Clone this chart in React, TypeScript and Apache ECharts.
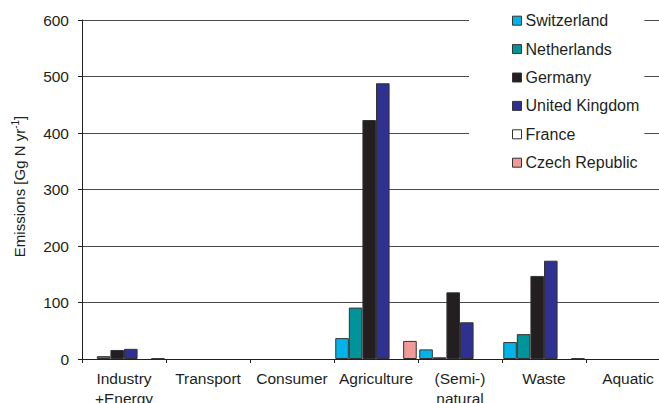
import React, { useEffect, useRef } from "react";
import * as echarts from "echarts";

const categories = ["Industry\n+Energy", "Transport", "Consumer", "Agriculture", "(Semi-)\nnatural", "Waste", "Aquatic"];
const countries = ["Switzerland", "Netherlands", "Germany", "United Kingdom", "France", "Czech Republic"];
const switzerland = [null, null, null, 37, 17, 30, null];
const netherlands = [5, null, null, 91, 3, 44, null];
const germany = [16, null, null, 423, 118, 147, null];
const unitedKingdom = [18, null, null, 488, 65, 174, null];
const france = [null, null, null, null, null, null, null];
const czechRepublic = [1, null, null, 32, null, 1, null];
const colors = ["#00b4ea", "#00939a", "#231f20", "#2e3192", "#ffffff", "#f29a9a"];
const yTicks = [0, 100, 200, 300, 400, 500, 600];

const FONT = "'Liberation Sans', Arial, Helvetica, sans-serif";
const TXT = "#231f20";

export default function App() {
  const ref = useRef<HTMLDivElement>(null);
  useEffect(() => {
    if (!ref.current) return;
    const chart = echarts.init(ref.current, undefined, { renderer: "svg" });
    const data = [switzerland, netherlands, germany, unitedKingdom, france, czechRepublic];
    chart.setOption({
      animation: false,
      textStyle: { fontFamily: FONT, color: TXT },
      grid: { left: 82, top: 20, bottom: 44, right: -11, containLabel: false, outerBoundsMode: "none" },
      legend: {
        orient: "vertical",
        left: 469,
        top: 4.7,
        padding: [8, 5, 8, 43],
        backgroundColor: "#ffffff",
        itemWidth: 9,
        itemHeight: 9,
        itemGap: 12.4,
        itemStyle: { borderColor: "#333", borderWidth: 1 },
        textStyle: { fontFamily: FONT, fontSize: 16, lineHeight: 16, color: TXT, padding: [0, 0, 0, -1] },
        icon: "rect",
        data: countries,
      },
      xAxis: {
        type: "category",
        data: categories,
        axisLine: { lineStyle: { color: "#231f20", width: 1 } },
        axisTick: { show: true, length: 4, lineStyle: { color: "#231f20" } },
        axisLabel: { fontFamily: FONT, fontSize: 15.5, lineHeight: 20, color: TXT, margin: 9, interval: 0 },
      },
      yAxis: {
        type: "value",
        min: 0,
        max: yTicks[yTicks.length - 1],
        interval: yTicks[1] - yTicks[0],
        name: "Emissions [Gg N yr{sup|-1}]",
        nameLocation: "middle",
        nameGap: 54,
        nameTextStyle: {
          fontFamily: FONT,
          fontSize: 15,
          color: TXT,
          lineHeight: 18,
          padding: [0, 0, 0, 6],
          rich: { sup: { fontSize: 10, verticalAlign: "top", lineHeight: 10, fontFamily: FONT, color: TXT } },
        },
        axisLine: { show: true, lineStyle: { color: "#231f20", width: 1 } },
        axisTick: { show: true, length: 4, lineStyle: { color: "#231f20" } },
        axisLabel: { fontFamily: FONT, fontSize: 15.5, color: TXT, margin: 13 },
        splitLine: { show: true, lineStyle: { color: "#4a4a4a", width: 1 } },
      },
      series: countries.map((name, i) => ({
        name,
        type: "bar",
        data: data[i],
        barGap: "0%",
        barCategoryGap: "3%",
        itemStyle: { color: colors[i], borderColor: "#333", borderWidth: 1 },
      })),
    });
    return () => chart.dispose();
  }, []);
  return <div ref={ref} style={{ width: 659, height: 403, position: "absolute", left: 0, top: 0 }} />;
}
